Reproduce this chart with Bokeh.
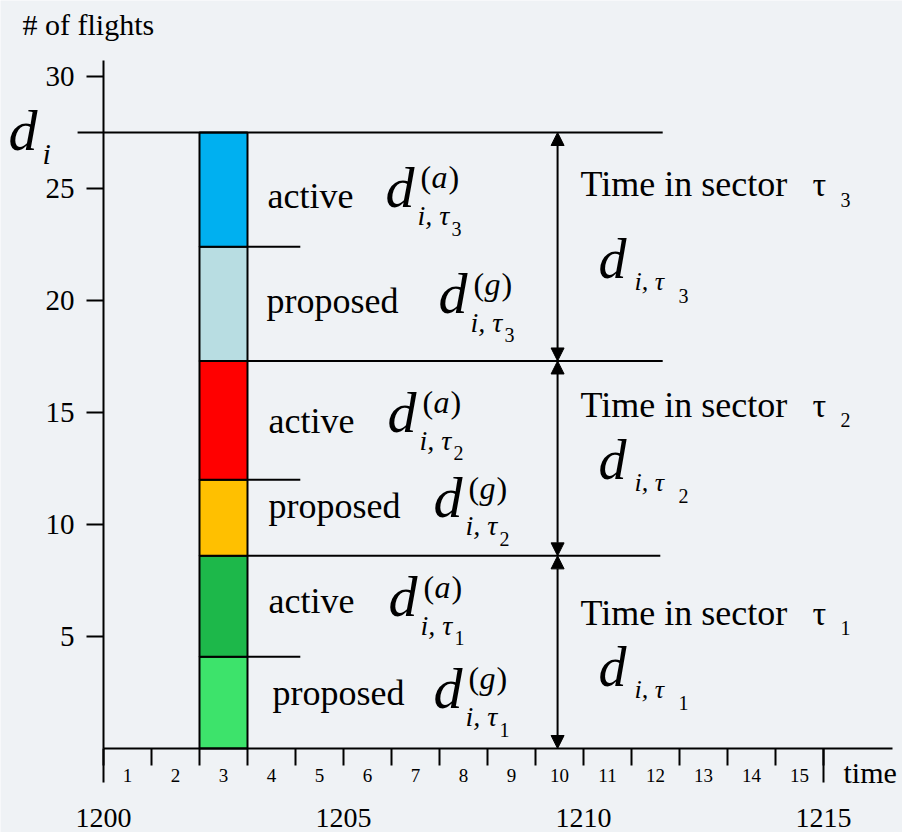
import numpy as np
from bokeh.plotting import figure
from bokeh.models import Range1d, FixedTicker, LinearAxis, Arrow, NormalHead, ColumnDataSource
from bokeh.core.properties import value
from bokeh.embed import file_html
from bokeh.resources import INLINE

# ---------------- data ----------------
segment_kind = ["proposed", "active", "proposed", "active", "proposed", "active"]
segment_sup = ["g", "a", "g", "a", "g", "a"]
segment_sector = ["1", "1", "2", "2", "3", "3"]
segment_counts = [4.1, 4.5, 3.4, 5.3, 5.1, 5.1]
segment_colors = ["#3de36b", "#1db84a", "#ffc000", "#ff0000", "#b8dde2", "#00b0f0"]
bar_interval = 3                      # the bar sits in time interval "3"
sector_names = ["1", "2", "3"]
interval_labels = [str(i) for i in range(1, 16)]
hour_ticks = [0, 5, 10, 15]
hour_labels = ["1200", "1205", "1210", "1215"]
y_ticks = [5, 10, 15, 20, 25, 30]

FONT = value("Liberation Serif")

tops = np.cumsum(segment_counts)
bottoms = tops - np.array(segment_counts)
mids = (tops + bottoms) / 2
total = tops[-1]
sector_edges = [0.0, tops[1], tops[3], tops[5]]
sector_lo = sector_edges[:-1]
sector_hi = sector_edges[1:]
sector_mid = [(a + b) / 2 for a, b in zip(sector_lo, sector_hi)]

bar_right = bar_interval
arrow_x = 9.46
line_left = -0.54
line_right = 11.65
short_right = 4.1

BG = "#eff2f5"
p = figure(width=902, height=832,
           x_range=Range1d(-2.1458, 16.6458), y_range=Range1d(-3.75, 33.393),
           output_backend="svg", toolbar_location=None, min_border=0)
p.grid.visible = False
p.outline_line_color = None
p.background_fill_color = BG
p.border_fill_color = BG

# ---------------- axes ----------------
ya = p.yaxis[0]
ya.fixed_location = 0
ya.ticker = FixedTicker(ticks=y_ticks, minor_ticks=[])
ya.bounds = (0, 30.7)
ya.axis_line_width = 2
ya.major_tick_line_width = 2
ya.major_tick_out = 17
ya.major_tick_in = 0
ya.major_label_standoff = 12
ya.major_label_text_font = "Liberation Serif"
ya.major_label_text_font_size = "29px"
ya.major_label_text_color = "black"

# interval axis: minor ticks at the interval borders, labels in the middle of each interval
xa = p.xaxis[0]
xa.fixed_location = 0
xa.ticker = FixedTicker(ticks=[i + 0.5 for i in range(15)], minor_ticks=list(range(0, 16)))
xa.major_label_overrides = {i + 0.5: lab for i, lab in enumerate(interval_labels)}
xa.bounds = (0, 16.44)
xa.axis_line_width = 2
xa.major_tick_line_color = None
xa.major_tick_out = 0
xa.major_tick_in = 0
xa.minor_tick_out = 17
xa.minor_tick_in = 0
xa.minor_tick_line_width = 2
xa.minor_tick_line_color = "black"
xa.major_label_standoff = 3
xa.major_label_text_font = "Liberation Serif"
xa.major_label_text_font_size = "19px"
xa.major_label_text_color = "black"

# clock-time axis, with the long end ticks as its minor ticks
xa_hour = LinearAxis(fixed_location=0,
                     ticker=FixedTicker(ticks=hour_ticks, minor_ticks=[hour_ticks[0], hour_ticks[-1]]),
                     major_label_overrides={t: lab for t, lab in zip(hour_ticks, hour_labels)},
                     axis_line_color=None, major_tick_line_color=None,
                     major_tick_out=0, major_tick_in=0,
                     minor_tick_out=34, minor_tick_in=0, minor_tick_line_width=2,
                     minor_tick_line_color="black",
                     major_label_standoff=26,
                     major_label_text_font="Liberation Serif", major_label_text_font_size="28px",
                     major_label_text_color="black")
p.add_layout(xa_hour, "below")

# ---------------- bar ----------------
p.vbar(x=[bar_interval - 0.5] * len(segment_counts), width=1, bottom=list(bottoms), top=list(tops),
       fill_color=segment_colors, line_color="black", line_width=2)

# ---------------- lines ----------------
p.segment(x0=[line_left, bar_right, bar_right], y0=[total, tops[3], tops[1]],
          x1=[line_right, line_right, line_right - 0.05], y1=[total, tops[3], tops[1]],
          line_color="black", line_width=2)
p.segment(x0=[bar_right] * 3, y0=[tops[4], tops[2], tops[0]],
          x1=[short_right] * 3, y1=[tops[4], tops[2], tops[0]],
          line_color="black", line_width=2)

# ---------------- arrows ----------------
asrc = ColumnDataSource(dict(x=[arrow_x] * 3, y0=sector_lo, y1=sector_hi))
p.add_layout(Arrow(start=NormalHead(size=13, fill_color="black", line_color="black"),
                   end=NormalHead(size=13, fill_color="black", line_color="black"),
                   x_start="x", y_start="y0", x_end="x", y_end="y1",
                   line_width=2, line_color="black", source=asrc))

K = 0.35  # baseline correction, fraction of font size


def text(xs, ys, txt, dx, dy, size, style="normal", align="left"):
    px = float(size.replace("px", ""))
    p.text(x=list(xs), y=list(ys), text=list(txt), x_offset=list(dx),
           y_offset=[d - K * px for d in dy],
           text_font=FONT, text_font_size=value(size), text_font_style=style,
           text_color="black", text_align=align, text_baseline="alphabetic")


def dsym(xs, ys, dx, dy, sups, digits, big="58px", sup=(35, -19), sub=(32, 18), dig=(66, 28),
         sub_size="28px", dig_size="20px", sup_size="32px"):
    n = len(xs)
    text(xs, ys, ["d"] * n, dx, dy, big, "italic")
    if sups is not None:
        sdx = [a + sup[0] for a in dx]
        sdy = [b + sup[1] for b in dy]
        text(xs, ys, ["("] * n, sdx, sdy, sup_size)
        text(xs, ys, sups, [a + 11 for a in sdx], sdy, sup_size, "italic")
        text(xs, ys, [")"] * n, [a + 28 for a in sdx], sdy, sup_size)
    text(xs, ys, ["i, τ" if digits is not None else "i"] * n,
         [a + sub[0] for a in dx], [b + sub[1] for b in dy], sub_size, "italic")
    if digits is not None:
        text(xs, ys, digits, [a + dig[0] for a in dx], [b + dig[1] for b in dy], dig_size)


# left labels (next to the bar)
n6 = len(segment_kind)
word_dx = [25, 21, 21, 21, 19, 20]
word_dy = [3, 7, 1, 13, 10, 19]
text([bar_right] * n6, mids, segment_kind, word_dx, word_dy, "36px")
d_dx = [186, 141, 186, 140, 191, 138]
d_dy = [6, 11, 0, 12, 10, 18]
dsym([bar_right] * n6, mids, d_dx, d_dy, segment_sup, segment_sector)

# right labels (sectors)
time_dy = [-27, -41, -50]
text([arrow_x] * 3, sector_mid, ["Time in sector"] * 3, [23] * 3, time_dy, "36px")
text([arrow_x] * 3, sector_mid, ["τ"] * 3, [255] * 3, time_dy, "34px")
text([arrow_x] * 3, sector_mid, sector_names, [283] * 3, [d + 10 for d in time_dy], "20px")
rd_dy = [34, 21, 32]
dsym([arrow_x] * 3, sector_mid, [41] * 3, rd_dy, None, sector_names,
     big="56px", sub=(36, 12), dig=(80, 24), sub_size="26px")

# d_i on the left
dsym([line_left], [total], [-69], [18], None, None, big="58px", sub=(34, 13), sub_size="30px")

# axis titles
text([0], [30.7], ["# of flights"], [-81], [-26], "30px")
text([15], [0], ["time"], [20], [34], "30px")

open("out.html", "w").write(file_html(p, INLINE))
